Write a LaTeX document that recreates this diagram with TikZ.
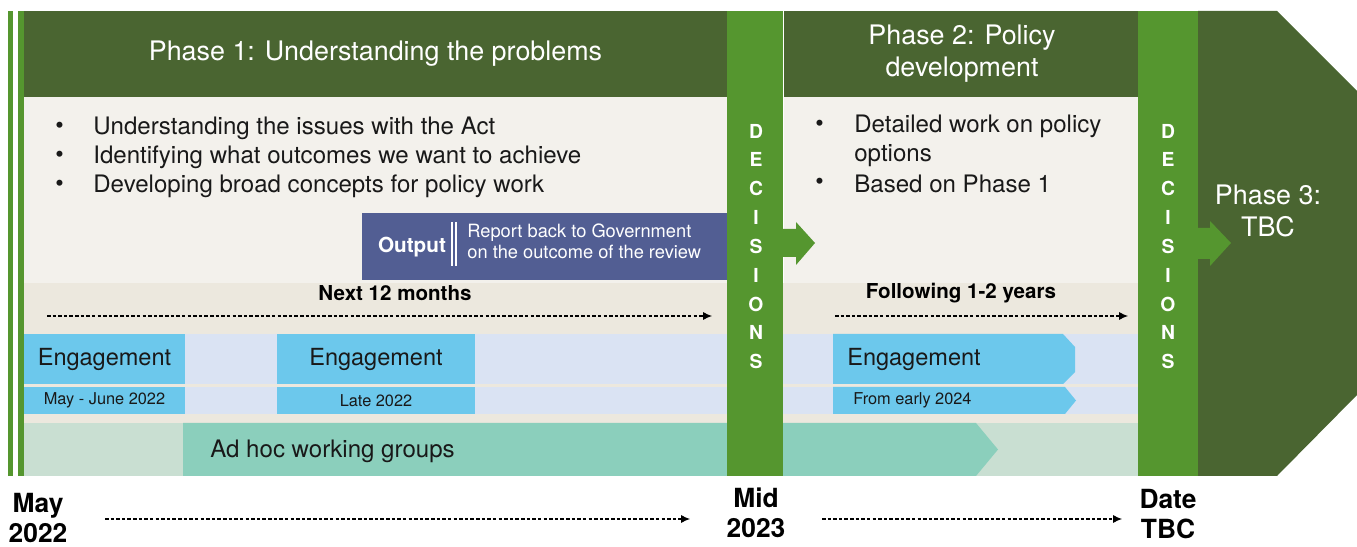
\documentclass[tikz,border=0pt]{standalone}
\usepackage{fontspec}
\setmainfont{TeX Gyre Heros}
\usetikzlibrary{arrows.meta}
\definecolor{darkgreen}{RGB}{74,101,49}
\definecolor{decgreen}{RGB}{85,150,47}
\definecolor{cream}{RGB}{243,241,236}
\definecolor{beige}{RGB}{236,232,222}
\definecolor{paleblue}{RGB}{218,227,243}
\definecolor{skyblue}{RGB}{108,200,236}
\definecolor{palegreen}{RGB}{201,223,210}
\definecolor{adhocteal}{RGB}{139,207,188}
\definecolor{outputblue}{RGB}{82,94,147}

\begin{document}
\begin{tikzpicture}[x=0.02cm,y=-0.02cm,
	head text/.style={text=white, inner sep=0pt, align=center, font=\fontsize{15.3}{18.2}\selectfont},
	item text/.style={anchor=west, inner sep=0pt, text=black!90, font=\fontsize{13.7}{16.4}\selectfont},
	engage text/.style={inner sep=0pt, text=black!90, font=\fontsize{13.4}{16}\selectfont},
	small text/.style={inner sep=0pt, text=black!90, font=\fontsize{9.3}{11}\selectfont},
	span text/.style={inner sep=0pt, font=\bfseries\fontsize{11.7}{14}\selectfont},
	date text/.style={inner sep=0pt, align=center, font=\bfseries\fontsize{15}{17.2}\selectfont},
	decision/.style={inner sep=0pt, align=center, text=white, font=\bfseries\fontsize{11}{16.4}\selectfont},
	dash arrow/.style={dash pattern=on 2pt off 1.2pt, line width=0.6pt, -{Latex[length=5pt,width=4.5pt]}}]
	\useasboundingbox (0,0) rectangle (1357,547);
	
	% Bands behind the phases
	\fill[decgreen] (8,11) rectangle (13,476);
	\fill[decgreen] (18,11) rectangle (24,476);
	\fill[darkgreen] (24,11) rectangle (727,97);
	\fill[darkgreen] (784,11) rectangle (1138,97);
	\fill[cream] (24,97) rectangle (727,283);
	\fill[cream] (784,97) rectangle (1138,283);
	\fill[beige] (24,283) rectangle (1138,423);
	\fill[paleblue] (24,334) rectangle (1138,384);
	\fill[paleblue] (24,387) rectangle (1138,414);
	\fill[palegreen] (24,423) rectangle (1138,476);
	
	% Ad hoc working groups
	\fill[adhocteal] (183,423) -- (976,423) -- (998,449.5) -- (976,476) -- (183,476) -- cycle;
	
	% Engagement boxes
	\fill[skyblue] (24,334) rectangle (185,384);
	\fill[skyblue] (24,387) rectangle (185,414);
	\fill[skyblue] (277,334) rectangle (475,384);
	\fill[skyblue] (277,387) rectangle (475,414);
	\fill[skyblue] (833,334) -- (1063,334) -- (1075,347) -- (1075,372) -- (1063,384) -- (833,384) -- cycle;
	\fill[skyblue] (833,387) -- (1065,387) -- (1076,400.5) -- (1065,414) -- (833,414) -- cycle;
	
	% Output box
	\fill[outputblue] (362,213) rectangle (727,280);
	\draw[white, line width=0.6pt] (452,222) -- (452,266) (456,222) -- (456,266);
	
	% Decision bars, phase 3 and the arrows between them
	\fill[decgreen] (727,11) rectangle (783,476);
	\fill[decgreen] (1138,11) rectangle (1198,476);
	\fill[darkgreen] (1198,11) -- (1277,11) -- (1357,91) -- (1357,395) -- (1277,476) -- (1198,476) -- cycle;
	\fill[decgreen] (783,229) -- (796,229) -- (796,222) -- (815,243) -- (796,265) -- (796,257) -- (783,257) -- cycle;
	\fill[decgreen] (1198,228) -- (1210,228) -- (1210,221) -- (1231,243) -- (1210,266) -- (1210,259) -- (1198,259) -- cycle;
	
	% Nodes
	\node[head text] (p1head) at (375.5,54) {Phase 1: Understanding the problems};
	\node[head text] (p2head) at (962,54) {Phase 2: Policy\\development};
	\node[head text] (p3head) at (1268,211) {Phase 3:\\TBC};
	
	\node[item text] (p1dota) at (55,128) {•};
	\node[item text] (p1itema) at (93,128) {Understanding the issues with the Act};
	\node[item text] (p1dotb) at (55,157) {•};
	\node[item text] (p1itemb) at (93,157) {Identifying what outcomes we want to achieve};
	\node[item text] (p1dotc) at (55,186) {•};
	\node[item text] (p1itemc) at (93,186) {Developing broad concepts for policy work};
	
	\node[item text] (p2dota) at (815,126) {•};
	\node[item text, align=left] (p2itema) at (854,140.5) {Detailed work on policy\\options};
	\node[item text] (p2dotb) at (815,184) {•};
	\node[item text] (p2itemb) at (854,184) {Based on Phase 1};
	
	\node[inner sep=0pt, text=white, font=\bfseries\fontsize{11.8}{14}\selectfont] (outlabel) at (412,247) {Output};
	\node[anchor=west, inner sep=0pt, align=left, text=white, font=\fontsize{10.4}{11.9}\selectfont] (outtext) at (467,241.5) {Report back to Government\\on the outcome of the review};
	
	\node[decision] (dec1) at (756,246.5) {D\\E\\C\\I\\S\\I\\O\\N\\S};
	\node[decision] (dec2) at (1168,246.5) {D\\E\\C\\I\\S\\I\\O\\N\\S};
	
	\node[engage text] (eng1) at (104.5,359) {Engagement};
	\node[small text] (eng1date) at (104.5,400.5) {May - June 2022};
	\node[engage text] (eng2) at (376,359) {Engagement};
	\node[small text] (eng2date) at (376,400.5) {Late 2022};
	\node[engage text, anchor=west] (eng3) at (847,359) {Engagement};
	\node[small text, anchor=west] (eng3date) at (853,400.5) {From early 2024};
	\node[engage text, anchor=west, font=\fontsize{13.7}{16}\selectfont] (adhoc) at (210,451) {Ad hoc working groups};
	
	% Spans and dates
	\node[span text] (p1span) at (395,293) {Next 12 months};
	\node[span text] (p2span) at (961,293) {Following 1-2 years};
	\coordinate (p1from) at (47,316);
	\coordinate (p1to) at (712,316);
	\coordinate (p2from) at (835,316);
	\coordinate (p2to) at (1128,316);
	\draw[dash arrow] (p1from) -- (p1to);
	\draw[dash arrow] (p2from) -- (p2to);
	
	\node[date text] (start) at (38,518) {May\\2022};
	\node[date text] (mid) at (756,513) {Mid\\2023};
	\node[date text] (tbc) at (1168,514) {Date\\TBC};
	\coordinate (startto) at (105,519);
	\coordinate (midfrom) at (690,519);
	\coordinate (midto) at (822,519);
	\coordinate (tbcfrom) at (1122,519);
	\draw[dash arrow] (startto) -- (midfrom);
	\draw[dash arrow] (midto) -- (tbcfrom);
\end{tikzpicture}
\end{document}
